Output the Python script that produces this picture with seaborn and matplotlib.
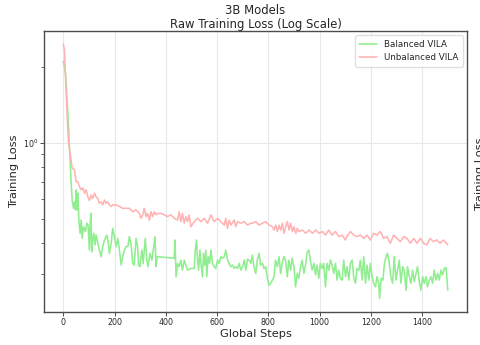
import pandas as pd
import matplotlib
matplotlib.use("Agg")
import matplotlib.pyplot as plt
import matplotlib.ticker as mticker
import seaborn as sns

# === Data
unbalanced_steps = [0, 5, 12, 20, 25, 35, 44, 50, 57, 63, 70, 77, 83, 89, 96, 102, 109, 115, 122, 128,
                    135, 141, 148, 154, 161, 167, 173, 180, 187, 193, 206, 219, 232, 245, 258, 271, 284,
                    297, 303, 310, 316, 323, 329, 336, 342, 349, 355, 362, 368, 381, 394, 407, 420, 433,
                    446, 452, 459, 465, 472, 478, 485, 491, 498, 511, 524, 537, 550, 563, 576, 589, 602,
                    615, 628, 634, 641, 647, 654, 667, 673, 680, 693, 706, 719, 732, 738, 751, 764, 777,
                    790, 803, 816, 822, 829, 835, 842, 848, 855, 861, 868, 874, 881, 887, 894, 900, 907,
                    913, 920, 933, 946, 959, 972, 985, 998, 1011, 1023, 1036, 1049, 1062, 1075, 1088,
                    1101, 1107, 1120, 1133, 1146, 1159, 1172, 1185, 1198, 1211, 1224, 1237, 1250, 1263,
                    1276, 1289, 1302, 1315, 1328, 1341, 1354, 1367, 1380, 1393, 1406, 1418, 1431, 1444,
                    1457, 1470, 1483, 1500]
unbalanced_loss = [2.46, 2.33, 1.52, 1.02, 0.935, 0.79, 0.78, 0.70, 0.70, 0.67, 0.65, 0.66, 0.63, 0.65,
                   0.61, 0.59, 0.62, 0.60, 0.63, 0.61, 0.60, 0.575, 0.583, 0.566, 0.592, 0.575, 0.583,
                   0.566, 0.558, 0.566, 0.566, 0.558, 0.549, 0.549, 0.549, 0.532, 0.541, 0.524, 0.501,
                   0.517, 0.549, 0.509, 0.524, 0.493, 0.532, 0.509, 0.532, 0.517, 0.524, 0.524, 0.517,
                   0.509, 0.517, 0.501, 0.493, 0.532, 0.486, 0.524, 0.479, 0.509, 0.486, 0.517, 0.464,
                   0.486, 0.501, 0.486, 0.501, 0.479, 0.517, 0.486, 0.501, 0.486, 0.471, 0.501, 0.457,
                   0.493, 0.471, 0.493, 0.464, 0.486, 0.479, 0.486, 0.471, 0.479, 0.479, 0.486, 0.471,
                   0.479, 0.486, 0.471, 0.464, 0.450, 0.471, 0.444, 0.471, 0.450, 0.479, 0.437, 0.464,
                   0.486, 0.450, 0.479, 0.444, 0.464, 0.437, 0.457, 0.444, 0.450, 0.437, 0.450, 0.437,
                   0.450, 0.437, 0.444, 0.430, 0.450, 0.430, 0.444, 0.424, 0.430, 0.411, 0.424, 0.444,
                   0.430, 0.424, 0.430, 0.417, 0.430, 0.411, 0.437, 0.430, 0.444, 0.417, 0.424, 0.399,
                   0.430, 0.417, 0.405, 0.424, 0.417, 0.399, 0.417, 0.399, 0.417, 0.399, 0.393, 0.417,
                   0.405, 0.411, 0.399, 0.411, 0.393]

balanced_steps = [0, 5, 10, 18, 25, 31, 35, 40, 44, 48, 51, 54, 57, 61, 66, 70, 74, 79, 87, 92, 97, 102,
                  105, 108, 111, 115, 119, 124, 128, 135, 141, 148, 154, 161, 170, 176, 180, 187, 193,
                  200, 206, 213, 219, 226, 232, 239, 245, 252, 258, 265, 271, 277, 284, 290, 294, 299,
                  307, 312, 320, 326, 331, 338, 346, 353, 358, 362, 366, 433, 436, 440, 446, 452, 459,
                  465, 472, 478, 485, 498, 511, 515, 520, 524, 528, 533, 537, 543, 547, 552, 556, 560,
                  565, 571, 576, 582, 589, 595, 602, 608, 615, 621, 628, 634, 641, 647, 654, 660, 667,
                  673, 680, 686, 693, 699, 706, 712, 719, 725, 732, 738, 744, 751, 757, 764, 770, 777,
                  783, 790, 796, 803, 809, 816, 822, 828, 835, 842, 848, 854, 861, 867, 874, 880, 887,
                  893, 900, 906, 913, 919, 926, 932, 939, 945, 952, 958, 965, 971, 978, 984, 990, 997,
                  1003, 1010, 1016, 1023, 1029, 1036, 1042, 1049, 1055, 1062, 1068, 1075, 1081, 1088,
                  1094, 1101, 1107, 1114, 1120, 1127, 1133, 1140, 1146, 1153, 1159, 1166, 1172, 1179,
                  1185, 1192, 1198, 1205, 1211, 1218, 1224, 1231, 1234, 1240, 1247, 1253, 1259, 1265,
                  1272, 1278, 1285, 1291, 1298, 1304, 1311, 1317, 1324, 1330, 1337, 1343, 1350, 1356,
                  1363, 1369, 1376, 1382, 1389, 1395, 1402, 1408, 1415, 1421, 1428, 1434, 1441, 1447,
                  1454, 1460, 1467, 1473, 1480, 1486, 1493, 1500]
balanced_loss = [2.10, 2.00, 1.82, 1.31, 0.935, 0.69, 0.59, 0.549, 0.583, 0.541, 0.649, 0.541, 0.630,
                 0.493, 0.437, 0.493, 0.417, 0.464, 0.444, 0.479, 0.471, 0.375, 0.479, 0.524, 0.369,
                 0.417, 0.437, 0.393, 0.430, 0.399, 0.375, 0.353, 0.387, 0.411, 0.430, 0.399, 0.364,
                 0.399, 0.457, 0.424, 0.387, 0.417, 0.375, 0.327, 0.353, 0.375, 0.387, 0.387, 0.424,
                 0.393, 0.332, 0.327, 0.417, 0.387, 0.327, 0.322, 0.375, 0.332, 0.417, 0.342, 0.322,
                 0.364, 0.342, 0.387, 0.424, 0.322, 0.353, 0.348, 0.411, 0.294, 0.332, 0.322, 0.342,
                 0.312, 0.342, 0.327, 0.312, 0.317, 0.317, 0.375, 0.411, 0.342, 0.312, 0.375, 0.332,
                 0.294, 0.364, 0.327, 0.375, 0.294, 0.353, 0.332, 0.375, 0.332, 0.322, 0.317, 0.342,
                 0.332, 0.353, 0.348, 0.353, 0.375, 0.342, 0.332, 0.322, 0.327, 0.317, 0.322, 0.317,
                 0.332, 0.312, 0.322, 0.342, 0.312, 0.345, 0.342, 0.332, 0.358, 0.322, 0.303, 0.342,
                 0.364, 0.327, 0.332, 0.317, 0.322, 0.290, 0.272, 0.277, 0.285, 0.294, 0.342, 0.322,
                 0.353, 0.303, 0.332, 0.353, 0.342, 0.294, 0.342, 0.312, 0.348, 0.322, 0.268, 0.303,
                 0.290, 0.322, 0.342, 0.303, 0.327, 0.369, 0.375, 0.337, 0.312, 0.332, 0.299, 0.327,
                 0.290, 0.332, 0.317, 0.332, 0.268, 0.332, 0.312, 0.342, 0.327, 0.303, 0.332, 0.285,
                 0.312, 0.290, 0.285, 0.342, 0.294, 0.322, 0.285, 0.332, 0.342, 0.294, 0.277, 0.317,
                 0.312, 0.342, 0.285, 0.353, 0.277, 0.327, 0.285, 0.332, 0.294, 0.277, 0.268, 0.294,
                 0.277, 0.241, 0.290, 0.285, 0.332, 0.353, 0.364, 0.332, 0.294, 0.277, 0.353, 0.285,
                 0.312, 0.342, 0.277, 0.322, 0.312, 0.260, 0.322, 0.294, 0.277, 0.312, 0.281, 0.303,
                 0.322, 0.281, 0.260, 0.294, 0.277, 0.294, 0.268, 0.285, 0.294, 0.277, 0.312, 0.285,
                 0.303, 0.285, 0.312, 0.299, 0.317, 0.320, 0.260]

series_names = ['Balanced VILA', 'Unbalanced VILA']
series_colors = {'Balanced VILA': '#90ee90', 'Unbalanced VILA': '#ffb3b3'}

# === Long-form table
df = pd.concat([
    pd.DataFrame({'Global Steps': balanced_steps, 'Training Loss': balanced_loss, 'Model': series_names[0]}),
    pd.DataFrame({'Global Steps': unbalanced_steps, 'Training Loss': unbalanced_loss, 'Model': series_names[1]}),
], ignore_index=True)

sns.set_style('whitegrid', {'axes.edgecolor': '0.3', 'grid.color': '#e8e8e8',
                            'xtick.bottom': True, 'ytick.left': True})
plt.rcParams['font.family'] = ['DejaVu Sans']

fig = plt.figure(figsize=(4.81, 3.45), dpi=100)
ax = fig.add_axes([44 / 481, 1 - 312 / 345, (467 - 44) / 481, (312 - 31) / 345])

sns.lineplot(data=df, x='Global Steps', y='Training Loss', hue='Model', hue_order=series_names,
             palette=series_colors, estimator=None, sort=True, linewidth=1.15, ax=ax)

ax.set_yscale('log')
ax.set_ylim(0.213, 2.77)
ax.set_xlim(-75, 1575)
ax.set_xticks(range(0, 1401, 200))
ax.yaxis.set_minor_formatter(mticker.NullFormatter())
ax.grid(True, which='major', color='#e8e8e8', linewidth=0.8)
ax.grid(False, which='minor')
ax.tick_params(axis='both', which='major', labelsize=5.7, length=3, width=0.7, colors='0.3',
               labelcolor='0.15', pad=1.5)
ax.tick_params(axis='y', which='minor', length=2, width=0.6, colors='0.3', left=True)
for s in ax.spines.values():
    s.set_linewidth(1.0)

ax.set_xlabel('Global Steps', fontsize=8.2, labelpad=1)
ax.set_ylabel('Training Loss', fontsize=8.2, labelpad=2.5)
ax.set_title('3B Models\nRaw Training Loss (Log Scale)', fontsize=8.4, pad=2, linespacing=1.15)

handles, labels = ax.get_legend_handles_labels()
ax.legend(handles, labels, loc='upper right', fontsize=6.3, frameon=True, framealpha=0.9,
          edgecolor='#dddddd', handlelength=2.0, borderpad=0.5, labelspacing=0.5)

# ylabel of the neighbouring panel, cut off by the crop
fig.text(475 / 481, 171 / 345, 'Training Loss', rotation=90, fontsize=8.2,
         ha='left', va='center', color='0.15')

fig.savefig('out.png', dpi=100)
